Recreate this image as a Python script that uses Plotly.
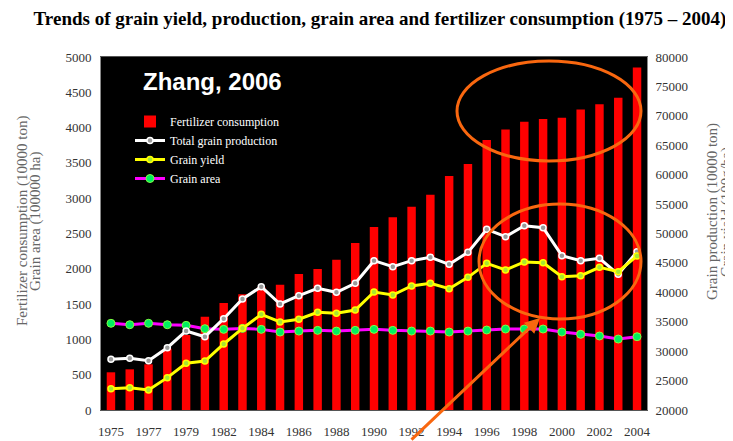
import plotly.graph_objects as go


# Years on the category axis (the source chart has no 1981 bar)
years = ['1975', '1976', '1977', '1978', '1979', '1980',
         '1982', '1983', '1984', '1985', '1986', '1987', '1988', '1989', '1990',
         '1991', '1992', '1993', '1994', '1995', '1996', '1997', '1998', '1999',
         '2000', '2001', '2002', '2003', '2004']

year_ticks = years[::2]

# Left axis: 10000 ton / 100000 ha
fertilizer_consumption = [534, 576, 647, 868, 1062, 1321,
                          1515, 1638, 1740, 1775, 1926, 1997, 2128, 2365, 2591,
                          2729, 2879, 3049, 3313, 3483, 3823, 3974, 4083, 4121,
                          4139, 4258, 4329, 4423, 4853]

grain_area = [1228, 1208, 1228, 1208, 1199, 1152,
              1142, 1156, 1142, 1104, 1118, 1128, 1118, 1128, 1142,
              1128, 1118, 1118, 1104, 1118, 1133, 1147, 1147, 1147,
              1104, 1072, 1048, 1005, 1038]

# Right axis: 10000 ton / 100g/ha
total_grain_production = [28620, 28790, 28390, 30590, 33430, 32460,
                          35520, 38870, 40960, 38020, 39430, 40690, 40000, 41530, 45380,
                          44360, 45380, 45950, 44760, 46800, 50710, 49460, 51330, 50990,
                          46230, 45380, 45780, 43060, 46900]

grain_yield = [23630, 23800, 23400, 25500, 27940, 28330,
               31220, 33880, 36260, 34960, 35420, 36610, 36440, 37000, 40060,
               39550, 41080, 41530, 40620, 42550, 44930, 43800, 45160, 45040,
               42660, 42830, 44250, 43500, 46180]


SERIF   = 'Liberation Serif, Times New Roman, serif'
ORANGE  = '#F9670F'
GREY_TX = '#666666'

# The page puts the figure 8px in from the top-left corner, so the figure is
# sized 725x433 and the plot area sits at page pixels x 101..647, y 57..410.
OFF = 8


#------------------------------------------------------------------------------------------------
def px_x(px):
    return (px - 101) / 546


def px_y(py):
    return (410 - py) / 353


#------------------------------------------------------------------------------------------------
def build_figure() -> go.Figure:

    fig = go.Figure()

    fig.add_trace(go.Bar(
        name              = 'Fertilizer consumption',
        x                 = years,
        y                 = fertilizer_consumption,
        marker_color      = '#FF0000',
        marker_line_width = 0,
        width             = 0.45,
        yaxis             = 'y'
    ))

    fig.add_trace(go.Scatter(
        name   = 'Total grain production',
        x      = years,
        y      = total_grain_production,
        mode   = 'lines+markers',
        line   = dict(color='#FFFFFF', width=3),
        marker = dict(size=6, color='#9a9a9a', line=dict(color='#FFFFFF', width=1.5)),
        yaxis  = 'y2'
    ))

    fig.add_trace(go.Scatter(
        name   = 'Grain yield',
        x      = years,
        y      = grain_yield,
        mode   = 'lines+markers',
        line   = dict(color='#FFFF00', width=3),
        marker = dict(size=6, color='#A8E830', line=dict(color='#FFFF00', width=1.5)),
        yaxis  = 'y2'
    ))

    fig.add_trace(go.Scatter(
        name   = 'Grain area',
        x      = years,
        y      = grain_area,
        mode   = 'lines+markers',
        line   = dict(color='#FF00FF', width=3),
        marker = dict(size=8, color='#00F060', line=dict(color='#80FF40', width=1)),
        yaxis  = 'y'
    ))

    tick_font = dict(family=SERIF, size=13, color='#333333')

    fig.update_layout(
        width         = 733 - OFF,
        height        = 441 - OFF,
        margin        = dict(l=101 - OFF, r=86, t=57 - OFF, b=31, autoexpand=False),
        paper_bgcolor = '#FFFFFF',
        plot_bgcolor  = '#000000',
        showlegend    = True,
        title = dict(
            text    = '<b>Trends of grain yield, production, grain area and fertilizer consumption (1975 – 2004)</b>',
            font    = dict(family=SERIF, size=19, color='#000000'),
            x       = (380 - OFF) / (733 - OFF),
            xanchor = 'center',
            y       = 1 - (18 - OFF) / (441 - OFF),
            yanchor = 'middle'
        ),
        legend = dict(
            x             = px_x(130),
            y             = px_y(107),
            xanchor       = 'left',
            yanchor       = 'top',
            bgcolor       = 'rgba(0,0,0,0)',
            font          = dict(family=SERIF, size=12, color='#FFFFFF'),
            tracegroupgap = 0,
            itemwidth     = 30
        ),
        xaxis = dict(
            type       = 'category',
            range      = [-0.53, len(years) - 0.47],
            automargin = False,
            tickmode   = 'array',
            tickvals   = year_ticks,
            ticktext   = year_ticks,
            tickfont   = tick_font,
            showgrid   = False,
            showline   = True,
            linecolor  = '#555555',
            linewidth  = 1,
            mirror     = True,
            ticks      = 'outside',
            ticklen    = 9,
            tickcolor  = 'rgba(0,0,0,0)'
        ),
        yaxis = dict(
            range      = [0, 5000],
            dtick      = 500,
            automargin = False,
            tickformat = 'd',
            tickfont   = tick_font,
            showgrid   = False,
            zeroline   = False,
            showline   = True,
            linecolor  = '#888888',
            ticks      = 'outside',
            ticklen    = 6,
            tickcolor  = 'rgba(0,0,0,0)'
        ),
        yaxis2 = dict(
            range      = [20000, 80000],
            dtick      = 5000,
            automargin = False,
            tickformat = 'd',
            overlaying = 'y',
            side       = 'right',
            tickfont   = tick_font,
            showgrid   = False,
            zeroline   = False,
            showline   = True,
            linecolor  = '#888888',
            ticks      = 'outside',
            ticklen    = 5,
            tickcolor  = 'rgba(0,0,0,0)'
        )
    )

    # Axis titles (two lines each, grey serif); the last one runs off the
    # right edge as it does on the source slide
    titles = [
        ('Fertilizer consumption (10000 ton)', 22,  221),
        ('Grain area (100000 ha)',             35,  221),
        ('Grain production (10000 ton)',       712, 212),
        ('Grain yield (100g/ha)',              726, 212),
    ]
    for text, px, py in titles:
        fig.add_annotation(
            text      = text,
            x         = px_x(px),
            y         = px_y(py),
            xref      = 'paper',
            yref      = 'paper',
            showarrow = False,
            textangle = -90,
            font      = dict(family=SERIF, size=15, color=GREY_TX),
            xanchor   = 'center',
            yanchor   = 'middle'
        )

    # Source label
    fig.add_annotation(
        text      = '<b>Zhang, 2006</b>',
        x         = px_x(141),
        y         = px_y(81),
        xref      = 'paper',
        yref      = 'paper',
        showarrow = False,
        xanchor   = 'left',
        yanchor   = 'middle',
        font      = dict(family='Liberation Sans, Arial, sans-serif', size=24, color='#FFFFFF')
    )

    # Orange highlight ellipses
    for x0, x1, y0, y1 in [(457, 641, 61, 161), (479, 641, 204, 319)]:
        fig.add_shape(
            type = 'circle',
            xref = 'paper',
            yref = 'paper',
            x0   = px_x(x0),
            x1   = px_x(x1),
            y0   = px_y(y1),
            y1   = px_y(y0),
            line = dict(color=ORANGE, width=3)
        )

    # Arrow pointing at the lower ellipse
    fig.add_annotation(
        text       = '',
        x          = px_x(540),
        y          = px_y(318),
        xref       = 'paper',
        yref       = 'paper',
        showarrow  = True,
        ax         = -130,
        ay         = 123,
        arrowhead  = 2,
        arrowsize  = 1,
        arrowwidth = 3,
        arrowcolor = ORANGE
    )

    return fig


fig = build_figure()
fig.write_html("out.html")
